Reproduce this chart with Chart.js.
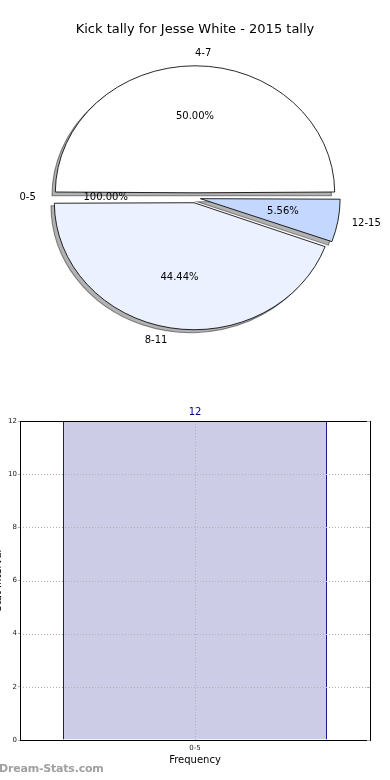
<!DOCTYPE html>
<html>
<head>
<meta charset="utf-8">
<script src="https://cdn.jsdelivr.net/npm/chart.js@4.4.1/dist/chart.umd.min.js"></script>
<style>
  html, body { margin: 0; padding: 0; background: #fff; }
  body { width: 390px; height: 780px; position: relative; overflow: hidden; }
  #pieBox { position: absolute; left: 0; top: 0; width: 390px; height: 358px; }
  #barBox { position: absolute; left: 0; top: 395px; width: 390px; height: 385px; }
  #mark { position: absolute; left: -1px; top: 762px; font: bold 11px "DejaVu Sans", sans-serif; color: #a0a0a0; letter-spacing: -0.2px; }
</style>
</head>
<body>
<div id="pieBox"><canvas id="pieChart"></canvas></div>
<div id="barBox"><canvas id="barChart"></canvas></div>
<div id="mark">Dream-Stats.com</div>
<script>
// Pie data, listed clockwise starting at 3 o'clock
const pieLabels = ['12-15', '8-11', '0-5', '4-7'];
const pieValues = [1, 8, 0, 9];
const piePercents = ['5.56%', '44.44%', '100.00%', '50.00%'];

// Histogram data
const barLabels = ['0-5'];
const barValues = [12];
const yTicks = [0, 2, 4, 6, 8, 10, 12];

const FONT = '"DejaVu Sans", sans-serif';

// pie styling
const pieColors = ['#c4d7fe', '#ebf1fe', '#ffffff', '#ffffff'];
const explode = 5;         // px every wedge is pushed out
const stretchX = 1.1;      // matplotlib pie is a bit wider than tall

const piePlugin = {
  id: 'piePlugin',
  beforeDatasetsDraw(chart) {
    const ctx = chart.ctx;
    const meta = chart.getDatasetMeta(0);
    const arcs = meta.data;
    const baseR = meta.controller.outerRadius;
    const cx = arcs[0].x, cy = arcs[0].y;

    // Chart.js grows small wedges when offset is set; keep them all the same size
    arcs.forEach(arc => {
      const circ = arc.endAngle - arc.startAngle;
      const fix = 1 - Math.sin(Math.min(Math.PI, circ));
      arc.outerRadius = baseR - explode * fix;
    });

    ctx.save();
    ctx.translate(cx, cy);
    ctx.scale(stretchX, 1);
    ctx.translate(-cx, -cy);

    // drop shadow, down and to the left
    ctx.save();
    ctx.fillStyle = 'rgba(0,0,0,0.3)';
    ctx.strokeStyle = 'rgba(0,0,0,0.45)';
    ctx.lineWidth = 1;
    arcs.forEach(arc => {
      if (arc.endAngle - arc.startAngle <= 0) return;
      const mid = (arc.startAngle + arc.endAngle) / 2;
      const ox = arc.x + Math.cos(mid) * explode - 3;
      const oy = arc.y + Math.sin(mid) * explode + 3;
      ctx.beginPath();
      ctx.moveTo(ox, oy);
      ctx.arc(ox, oy, baseR, arc.startAngle, arc.endAngle);
      ctx.closePath();
      ctx.fill();
      ctx.stroke();
    });
    ctx.restore();
  },
  afterDatasetsDraw(chart) {
    const ctx = chart.ctx;
    ctx.restore();

    const meta = chart.getDatasetMeta(0);
    const r = meta.controller.outerRadius;
    ctx.save();
    ctx.font = '10px ' + FONT;
    ctx.fillStyle = '#000';
    ctx.textBaseline = 'middle';
    meta.data.forEach((arc, i) => {
      const mid = (arc.startAngle + arc.endAngle) / 2;
      const dx = Math.cos(mid), dy = Math.sin(mid);

      // percentage inside the wedge
      let d = explode + 0.6 * r;
      ctx.textAlign = 'center';
      ctx.fillText(piePercents[i], arc.x + dx * d * stretchX, arc.y + dy * d);

      // category name just outside
      d = explode + 1.1 * r;
      ctx.textAlign = dx >= -1e-6 ? 'left' : 'right';
      ctx.fillText(pieLabels[i], arc.x + dx * d * stretchX, arc.y + dy * d);
    });
    ctx.restore();
  }
};

new Chart(document.getElementById('pieChart'), {
  type: 'pie',
  data: {
    labels: pieLabels,
    datasets: [{
      data: pieValues,
      backgroundColor: pieColors,
      borderColor: '#000',
      borderWidth: 0.8,
      offset: explode * 4,   // arc element moves by offset / 4
      hoverOffset: 0
    }]
  },
  options: {
    responsive: true,
    maintainAspectRatio: false,
    animation: false,
    rotation: 90,
    radius: 127,
    layout: { padding: 0 },
    plugins: {
      legend: { display: false },
      tooltip: { enabled: false },
      title: {
        display: true,
        text: 'Kick tally for Jesse White - 2015 tally',
        color: '#000',
        font: { family: FONT, size: 13, weight: 'normal' },
        padding: { top: 22, bottom: 0 }
      }
    }
  },
  plugins: [piePlugin]
});

// Bar chart: dotted grid over the bar, frame, and the value on top
const barPlugin = {
  id: 'barPlugin',
  afterDatasetsDraw(chart) {
    const ctx = chart.ctx;
    const a = chart.chartArea;
    const x = chart.scales.x, y = chart.scales.y;
    ctx.save();

    // matplotlib draws its grid above the bars
    ctx.strokeStyle = '#b0b0b0';
    ctx.lineWidth = 1;
    ctx.setLineDash([1, 2]);
    yTicks.forEach(v => {
      const py = Math.round(y.getPixelForValue(v)) + 0.5;
      ctx.beginPath();
      ctx.moveTo(a.left, py);
      ctx.lineTo(a.right, py);
      ctx.stroke();
    });
    barLabels.forEach((lab, i) => {
      const px = Math.round(x.getPixelForValue(i)) + 0.5;
      ctx.beginPath();
      ctx.moveTo(px, a.top);
      ctx.lineTo(px, a.bottom);
      ctx.stroke();
    });
    ctx.setLineDash([]);

    ctx.strokeStyle = '#000';
    ctx.strokeRect(Math.round(a.left) + 0.5, Math.round(a.top) + 0.5,
      Math.round(a.right - a.left), Math.round(a.bottom - a.top));

    // small inward ticks on the right side
    ctx.strokeStyle = '#aaa';
    yTicks.forEach(v => {
      const py = Math.round(y.getPixelForValue(v)) + 0.5;
      ctx.beginPath();
      ctx.moveTo(a.right - 3, py);
      ctx.lineTo(a.right, py);
      ctx.stroke();
    });

    const meta = chart.getDatasetMeta(0);
    ctx.font = '10px ' + FONT;
    ctx.fillStyle = '#000080';
    ctx.textAlign = 'center';
    ctx.textBaseline = 'middle';
    meta.data.forEach((bar, i) => {
      ctx.fillText(String(barValues[i]), bar.x, bar.y - 9);
    });
    ctx.restore();
  }
};

new Chart(document.getElementById('barChart'), {
  type: 'bar',
  data: {
    labels: barLabels,
    datasets: [{
      data: barValues,
      backgroundColor: 'rgb(204,204,230)',
      borderColor: '#000080',
      borderWidth: 1,
      borderSkipped: 'bottom',
      categoryPercentage: 1,
      barPercentage: 0.754
    }]
  },
  options: {
    responsive: true,
    maintainAspectRatio: false,
    animation: false,
    layout: { padding: { top: 26, right: 20, left: 0, bottom: 0 } },
    plugins: {
      legend: { display: false },
      tooltip: { enabled: false }
    },
    scales: {
      x: {
        afterFit: (s) => { s.height = 40; },
        grid: { offset: false, drawOnChartArea: false, drawTicks: false },
        border: { color: '#000' },
        ticks: { color: '#222', font: { family: FONT, size: 7 }, padding: 4 },
        title: {
          display: true,
          text: 'Frequency',
          color: '#000',
          font: { family: FONT, size: 10 },
          padding: { top: 0, bottom: 14 }
        }
      },
      y: {
        min: 0,
        max: 12,
        afterFit: (s) => { s.width = 20; },
        afterBuildTicks: (s) => { s.ticks = yTicks.map(v => ({ value: v })); },
        grid: { drawOnChartArea: false, color: '#b0b0b0', tickLength: 2 },
        border: { color: '#000' },
        ticks: { color: '#222', font: { family: FONT, size: 7 }, padding: 1 },
        title: {
          display: true,
          text: 'Stat Interval',
          color: '#000',
          font: { family: FONT, size: 10 },
          padding: { top: -8, bottom: 0 }
        }
      }
    }
  },
  plugins: [barPlugin]
});
</script>
</body>
</html>
